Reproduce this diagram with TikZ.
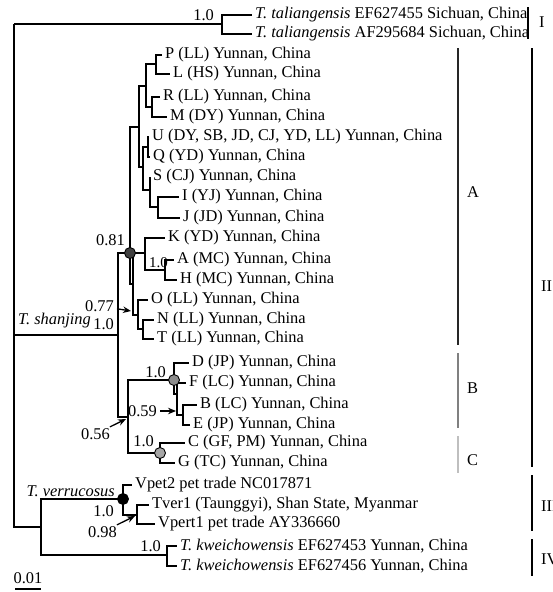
\documentclass[tikz,border=0pt]{standalone}
\usepackage{fontspec}
\setmainfont{Liberation Serif}
\usepackage{tikz}
\usetikzlibrary{arrows.meta}

\begin{document}
\begin{tikzpicture}[x=1pt, y=-1pt,
    every node/.style={font=\fontsize{16.4}{18}\selectfont, inner sep=0pt},
    leaf/.style={anchor=west, inner xsep=3pt},
    supp/.style={anchor=east},
    grp/.style={anchor=west},
    br/.style={line width=1.6pt},
    pointer/.style={line width=1.3pt, shorten <=3pt, -{Stealth[length=8pt,width=6.5pt]}},
    knot/.style={circle, draw=black, line width=0.9pt, minimum size=11pt},
    grpbar/.style={line width=2pt}]
  \useasboundingbox (0,0) rectangle (552,592);

  % internal nodes
  \coordinate (root) at (14,24);
  \coordinate (tal) at (222,24);
  \coordinate (shj) at (118,335);
  \coordinate (a81) at (130,253);
  \coordinate (a77) at (133,284);
  \coordinate (up) at (139,127);
  \coordinate (plrm) at (146,86);
  \coordinate (pl) at (156,64);
  \coordinate (rm) at (152,107);
  \coordinate (uqsij) at (143,167);
  \coordinate (uq) at (148,147);
  \coordinate (sij) at (150,190);
  \coordinate (ij) at (158,207);
  \coordinate (kah) at (145,253);
  \coordinate (ah) at (165,270);
  \coordinate (ont) at (138,315);
  \coordinate (nt) at (143,329);
  \coordinate (bc) at (128,417);
  \coordinate (bn) at (174,380);
  \coordinate (fbe) at (177,394);
  \coordinate (be) at (183,415);
  \coordinate (cn) at (160,453);
  \coordinate (outg) at (41,527);
  \coordinate (ver) at (123,499);
  \coordinate (tv) at (137,515);
  \coordinate (kw) at (167,555);

  % taliangensis
  \node[leaf] (ltal1) at (252,15) {\textit{T. taliangensis} EF627455 Sichuan, China};
  \node[leaf] (ltal2) at (252,34) {\textit{T. taliangensis} AF295684 Sichuan, China};
  \node[supp] (s1) at (214,15) {1.0};
  \draw[br] (root) |- (tal) (tal) |- (ltal1) (tal) |- (ltal2);

  % clade A
  \node[leaf] (lP) at (162,55) {P (LL) Yunnan, China};
  \node[leaf] (lL) at (170,74) {L (HS) Yunnan, China};
  \node[leaf] (lR) at (160,97) {R (LL) Yunnan, China};
  \node[leaf] (lM) at (167,117) {M (DY) Yunnan, China};
  \node[leaf] (lU) at (149,137) {U (DY, SB, JD, CJ, YD, LL) Yunnan, China};
  \node[leaf] (lQ) at (150,157) {Q (YD) Yunnan, China};
  \node[leaf] (lS) at (150,177) {S (CJ) Yunnan, China};
  \node[leaf] (lI) at (179,197) {I (YJ) Yunnan, China};
  \node[leaf] (lJ) at (180,218) {J (JD) Yunnan, China};
  \node[leaf] (lK) at (165,238) {K (YD) Yunnan, China};
  \node[leaf] (lA) at (174,260) {A (MC) Yunnan, China};
  \node[leaf] (lH) at (177,280) {H (MC) Yunnan, China};
  \node[leaf] (lO) at (148,300) {O (LL) Yunnan, China};
  \node[leaf] (lN) at (154,320) {N (LL) Yunnan, China};
  \node[leaf] (lT) at (154,339) {T (LL) Yunnan, China};
  \draw[br] (pl) |- (lP) (pl) |- (lL) (rm) |- (lR) (rm) |- (lM)
    (plrm) |- (pl) (plrm) |- (rm)
    (uq) |- (lU) (uq) |- (lQ) (ij) |- (lI) (ij) |- (lJ)
    (sij) |- (lS) (sij) |- (ij) (uqsij) |- (uq) (uqsij) |- (sij)
    (up) |- (plrm) (up) |- (uqsij);
  \draw[br] (ah) |- (lA) (ah) |- (lH) (kah) |- (lK) (kah) |- (ah)
    (nt) |- (lN) (nt) |- (lT) (ont) |- (lO) (ont) |- (nt)
    (a77) |- (kah) (a77) |- (ont) (a81) |- (up) (a81) |- (a77);
  \node[supp] (s1a) at (168,263) {\fontsize{15}{16}\selectfont 1.0};

  % clades B and C
  \node[leaf] (lD) at (189,363) {D (JP) Yunnan, China};
  \node[leaf] (lF) at (186,383) {F (LC) Yunnan, China};
  \node[leaf] (lB) at (197,405) {B (LC) Yunnan, China};
  \node[leaf] (lE) at (190,425) {E (JP) Yunnan, China};
  \node[leaf] (lC) at (185,443) {C (GF, PM) Yunnan, China};
  \node[leaf] (lG) at (175,463) {G (TC) Yunnan, China};
  \draw[br] (be) |- (lB) (be) |- (lE) (fbe) |- (lF) (fbe) |- (be)
    (bn) |- (lD) (bn) |- (fbe) (cn) |- (lC) (cn) |- (lG)
    (bc) |- (bn) (bc) |- (cn);

  % shanjing
  \draw[br] (root) |- (shj) (shj) |- (a81) (shj) |- (bc);
  \node[supp] (lshj) at (91,321) {\textit{T. shanjing}};
  \node[supp] (s2) at (114,324) {1.0};
  \node[supp] (s81) at (125,240) {0.81};
  \node[supp] (s77) at (114,306) {0.77};
  \node[supp] (sB) at (166,372) {1.0};
  \node[supp] (s59) at (157,411) {0.59};
  \node[supp] (s56) at (110,434) {0.56};
  \node[supp] (sC) at (154,441) {1.0};
  \coordinate (p77) at (131,311);
  \coordinate (p59) at (176,411);
  \coordinate (p56) at (126,419);
  \draw[pointer] (s77) -- (p77);
  \draw[pointer] (s59) -- (p59);
  \draw[pointer] (s56) -- (p56);

  % verrucosus and kweichowensis
  \node[leaf] (lV2) at (132,485) {Vpet2 pet trade NC017871};
  \node[leaf] (lTv) at (149,505) {Tver1 (Taunggyi), Shan State, Myanmar};
  \node[leaf] (lV1) at (155,524) {Vpert1 pet trade AY336660};
  \node[leaf] (lkw1) at (177,546) {\textit{T. kweichowensis} EF627453 Yunnan, China};
  \node[leaf] (lkw2) at (177,566) {\textit{T. kweichowensis} EF627456 Yunnan, China};
  \draw[br] (tv) |- (lTv) (tv) |- (lV1) (ver) |- (lV2) (ver) |- (tv)
    (kw) |- (lkw1) (kw) |- (lkw2)
    (outg) |- (ver) (outg) |- (kw) (root) |- (outg);
  \node[supp] (lver) at (115,491) {\textit{T. verrucosus}};
  \node[supp] (sV) at (114,511) {1.0};
  \node[supp] (s98) at (117,532) {0.98};
  \node[supp] (sK) at (161,546) {1.0};
  \coordinate (p98) at (135,516);
  \draw[pointer] (s98) -- (p98);

  % support dots
  \node[knot, fill=black!75] (k81) at (a81) {};
  \node[knot, fill=black!45] (kB) at (bn) {};
  \node[knot, fill=black!35] (kC) at (cn) {};
  \node[knot, fill=black] (kV) at (ver) {};

  % scale
  \node (scl) at (28,578) {0.01};
  \coordinate (sc0) at (15,589);
  \coordinate (sc1) at (41,589);
  \draw[line width=1.2pt] (sc0) -- (sc1);

  % groups
  \coordinate (Atop) at (458,48);   \coordinate (Abot) at (458,345);
  \coordinate (Btop) at (458,353);  \coordinate (Bbot) at (458,428);
  \coordinate (Ctop) at (458,436);  \coordinate (Cbot) at (458,473);
  \coordinate (Itop) at (528,7);    \coordinate (Ibot) at (528,39);
  \coordinate (IItop) at (532,48);  \coordinate (IIbot) at (532,467);
  \coordinate (IIItop) at (532,475);\coordinate (IIIbot) at (532,531);
  \coordinate (IVtop) at (532,539); \coordinate (IVbot) at (532,576);
  \draw[grpbar, black!85] (Atop) -- (Abot);
  \draw[grpbar, black!50] (Btop) -- (Bbot);
  \draw[grpbar, black!25] (Ctop) -- (Cbot);
  \draw[grpbar] (Itop) -- (Ibot) (IItop) -- (IIbot) (IIItop) -- (IIIbot) (IVtop) -- (IVbot);
  \node[grp] (gA) at (467,192) {A};
  \node[grp] (gB) at (467,388) {B};
  \node[grp] (gC) at (467,460) {C};
  \node[grp] (gI) at (539,22) {I};
  \node[grp] (gII) at (541,286) {II};
  \node[grp] (gIII) at (541,506) {III};
  \node[grp] (gIV) at (541,559) {IV};
\end{tikzpicture}
\end{document}
